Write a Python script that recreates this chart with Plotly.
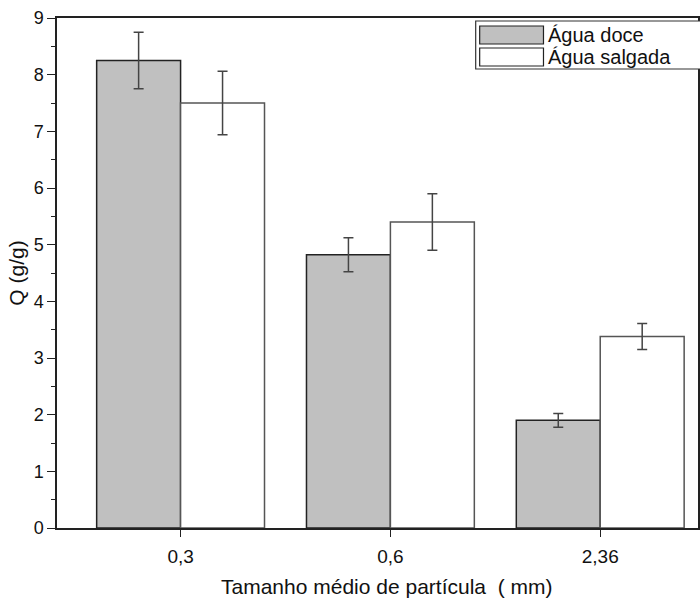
import plotly.graph_objects as go

categories = ["0,3", "0,6", "2,36"]
agua_doce = [8.25, 4.82, 1.90]
agua_doce_err = [0.50, 0.30, 0.12]
agua_salgada = [7.50, 5.40, 3.38]
agua_salgada_err = [0.56, 0.50, 0.23]
series_names = ["Água doce", "Água salgada"]
x_title = "Tamanho médio de partícula  ( mm)"
y_title = "Q (g/g)"

FONT = "Liberation Sans, Arial, sans-serif"

fig = go.Figure()
fig.add_trace(go.Bar(
    x=categories, y=agua_doce, name=series_names[0],
    marker=dict(color="#c0c0c0", line=dict(color="#222222", width=1.5)),
    error_y=dict(type="data", array=agua_doce_err, color="#444444", thickness=1.5, width=5),
    showlegend=False,
))
fig.add_trace(go.Bar(
    x=categories, y=agua_salgada, name=series_names[1],
    marker=dict(color="#ffffff", line=dict(color="#555555", width=1.5)),
    error_y=dict(type="data", array=agua_salgada_err, color="#444444", thickness=1.5, width=5),
    showlegend=False,
))

# custom legend (large swatches as in the reference)
def px_x(p):
    return (p - 57) / 643.0

def px_y(p):
    return (528 - p) / 510.0

fig.add_shape(type="rect", xref="paper", yref="paper",
              x0=px_x(477), x1=px_x(720), y0=px_y(69), y1=px_y(21),
              line=dict(color="#333333", width=1.2), fillcolor="white", layer="above")
fig.add_shape(type="rect", xref="paper", yref="paper",
              x0=px_x(481), x1=px_x(545), y0=px_y(44), y1=px_y(26),
              line=dict(color="#222222", width=1.2), fillcolor="#c0c0c0", layer="above")
fig.add_shape(type="rect", xref="paper", yref="paper",
              x0=px_x(481), x1=px_x(545), y0=px_y(66), y1=px_y(48),
              line=dict(color="#222222", width=1.2), fillcolor="white", layer="above")
for name, yc in zip(series_names, [35, 57]):
    fig.add_annotation(xref="paper", yref="paper", x=px_x(548), y=px_y(yc),
                       text=name, showarrow=False, xanchor="left", yanchor="middle",
                       font=dict(family=FONT, size=20, color="#111111"))

# x-axis title (the original plot area extends past the cropped right edge)
fig.add_annotation(xref="paper", yref="paper", x=px_x(388), y=px_y(586),
                   text=x_title, showarrow=False, xanchor="center", yanchor="middle",
                   font=dict(family=FONT, size=21, color="#111111"))

fig.update_layout(
    width=700, height=606,
    margin=dict(l=57, r=0, t=18, b=78),
    paper_bgcolor="white", plot_bgcolor="white",
    barmode="group", bargap=0.2, bargroupgap=0.0,
    font=dict(family=FONT, size=18, color="#111111"),
)
fig.update_xaxes(
    range=[-0.589, 2.466],
    showline=True, linecolor="#222222", linewidth=1.5, mirror=True,
    ticks="outside", ticklen=7, tickwidth=1.2, tickcolor="#222222",
    ticklabelstandoff=3,
    showgrid=False, zeroline=False,
    tickfont=dict(size=19),
)
fig.update_yaxes(
    range=[0, 9], dtick=1,
    showline=True, linecolor="#222222", linewidth=1.5, mirror=True,
    ticks="outside", ticklen=8, tickwidth=1.2, tickcolor="#222222",
    minor=dict(dtick=0.5, ticks="outside", ticklen=4, tickcolor="#222222", tickwidth=1.2),
    showgrid=False, zeroline=False,
    tickfont=dict(size=18),
    title=dict(text=y_title, font=dict(size=21), standoff=3),
)

fig.write_html("out.html")
